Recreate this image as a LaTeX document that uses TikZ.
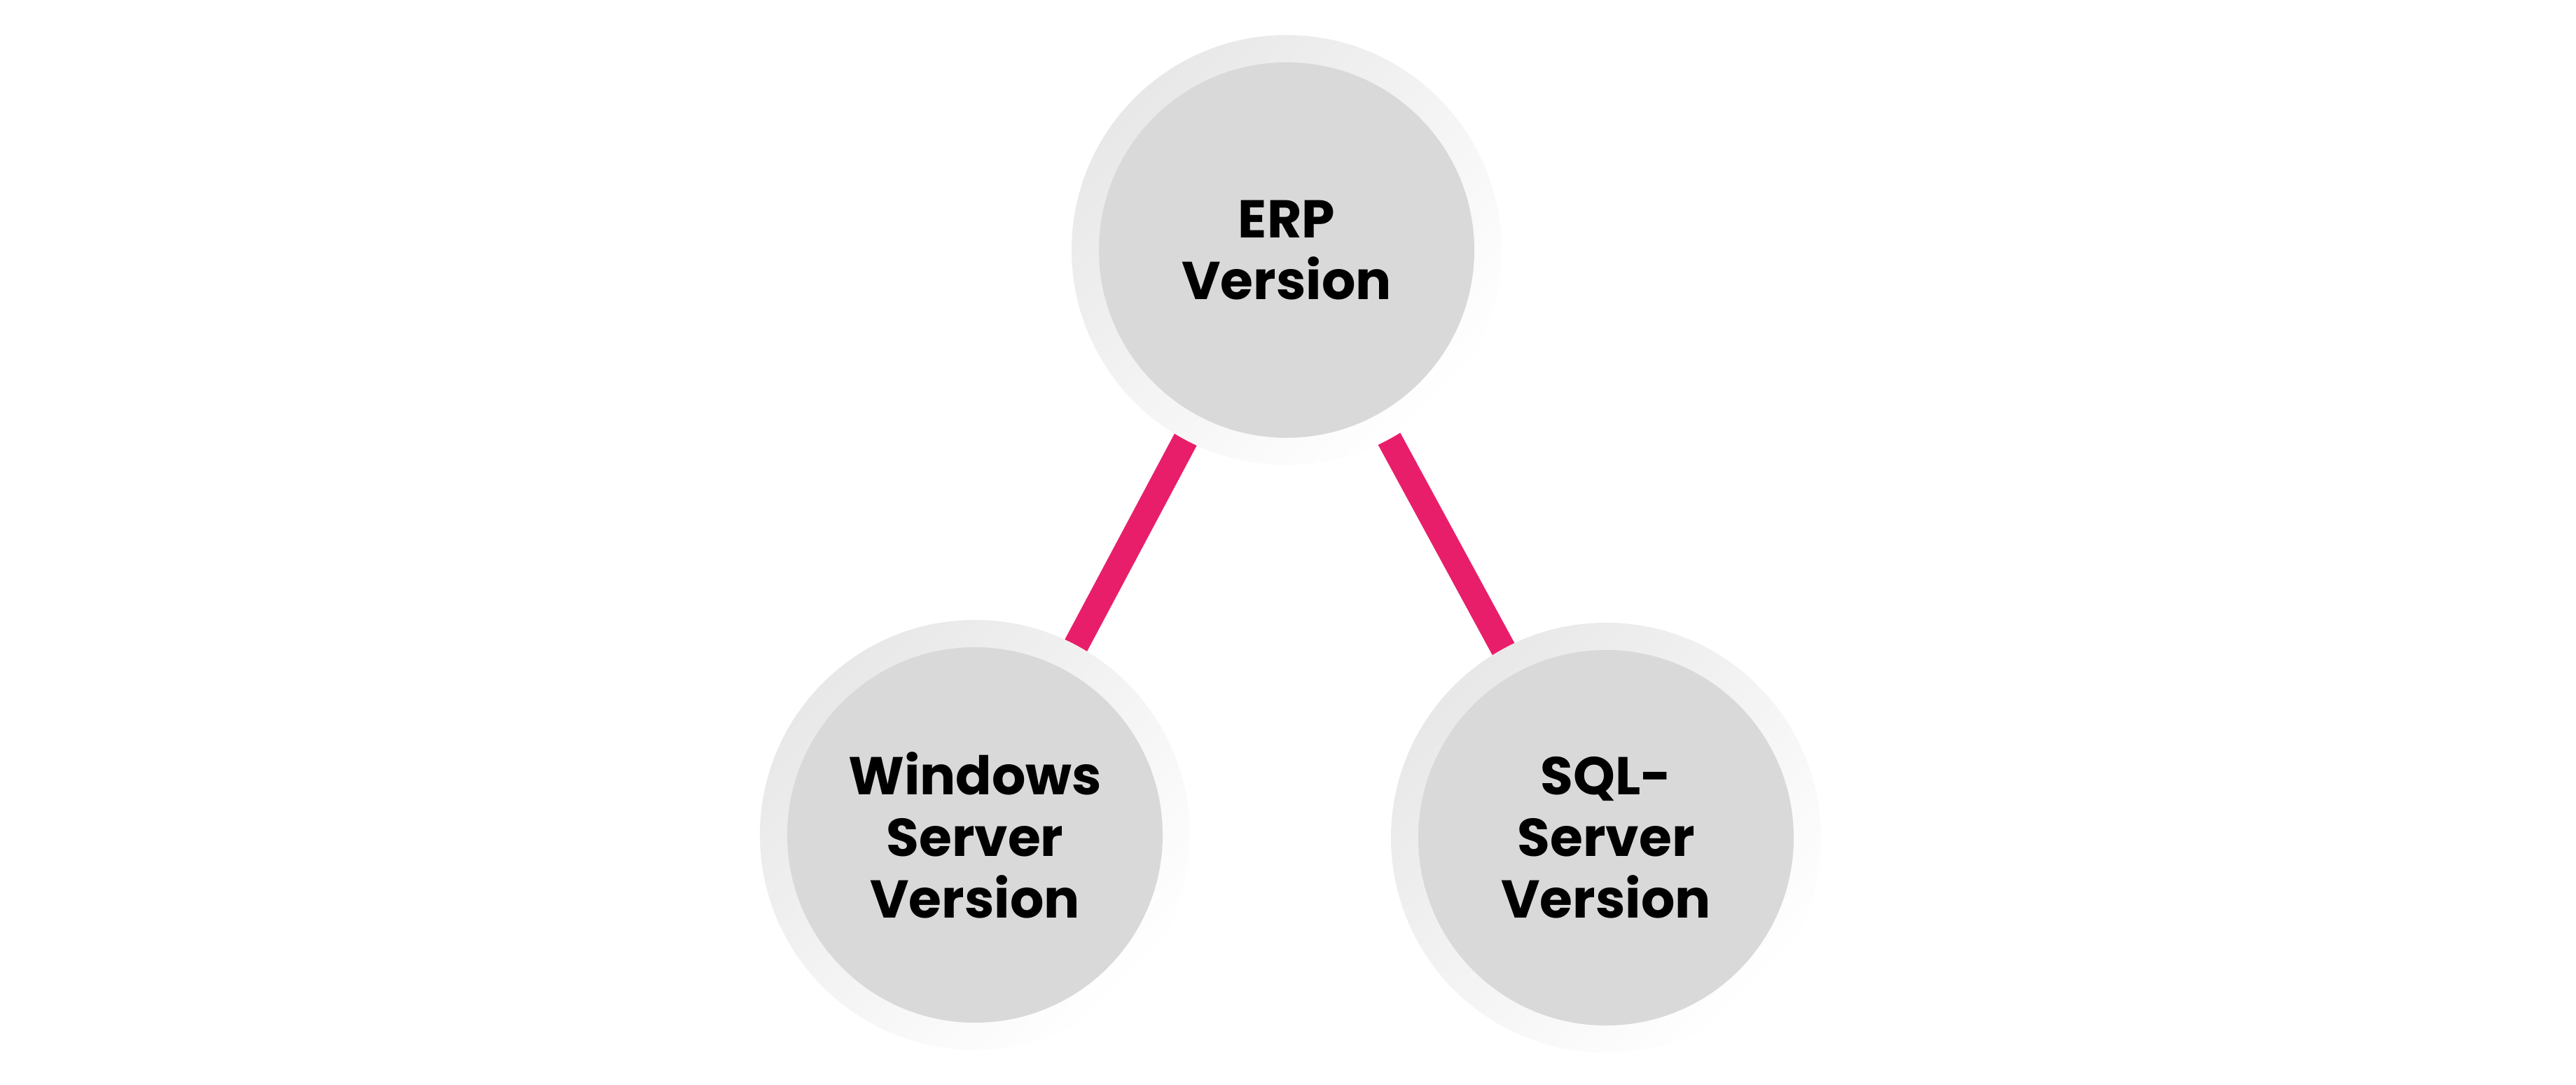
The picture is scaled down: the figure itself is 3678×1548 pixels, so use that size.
\documentclass[tikz,border=0pt]{standalone}
\usepackage{fontspec}
\setmainfont{Poppins}[BoldFont=* Bold]
\usetikzlibrary{backgrounds}
\definecolor{linkpink}{HTML}{E91E6B}
\definecolor{innergray}{HTML}{D9D9D9}
\definecolor{ringgray}{HTML}{E8E8E8}
\tikzset{
  ring/.style={circle, minimum size=122.8pt, inner sep=0pt,
    top color=ringgray, bottom color=white, shading angle=45},
  core/.style={circle, minimum size=107.2pt, inner sep=0pt, fill=innergray,
    align=center, font=\fontsize{15.2pt}{17.6pt}\selectfont\bfseries, text=black},
  link/.style={draw=linkpink, line width=7.2pt}
}
\begin{document}
\begin{tikzpicture}[x=0.2pt,y=-0.2pt]
\useasboundingbox (0,0) rectangle (3678,1548);
\node[ring] (erpo) at (1837,357) {};
\node[ring] (wino) at (1392,1192) {};
\node[ring] (sqlo) at (2293,1196) {};
\node[core] (erp) at (erpo.center) {ERP\\Version};
\node[core] (win) at (wino.center) {Windows\\Server\\Version};
\node[core] (sql) at (sqlo.center) {SQL-\\Server\\Version};
\begin{scope}[on background layer]
\draw[link] (erpo.center) -- (wino.center);
\draw[link] (erpo.center) -- (sqlo.center);
\end{scope}
\end{tikzpicture}
\end{document}
